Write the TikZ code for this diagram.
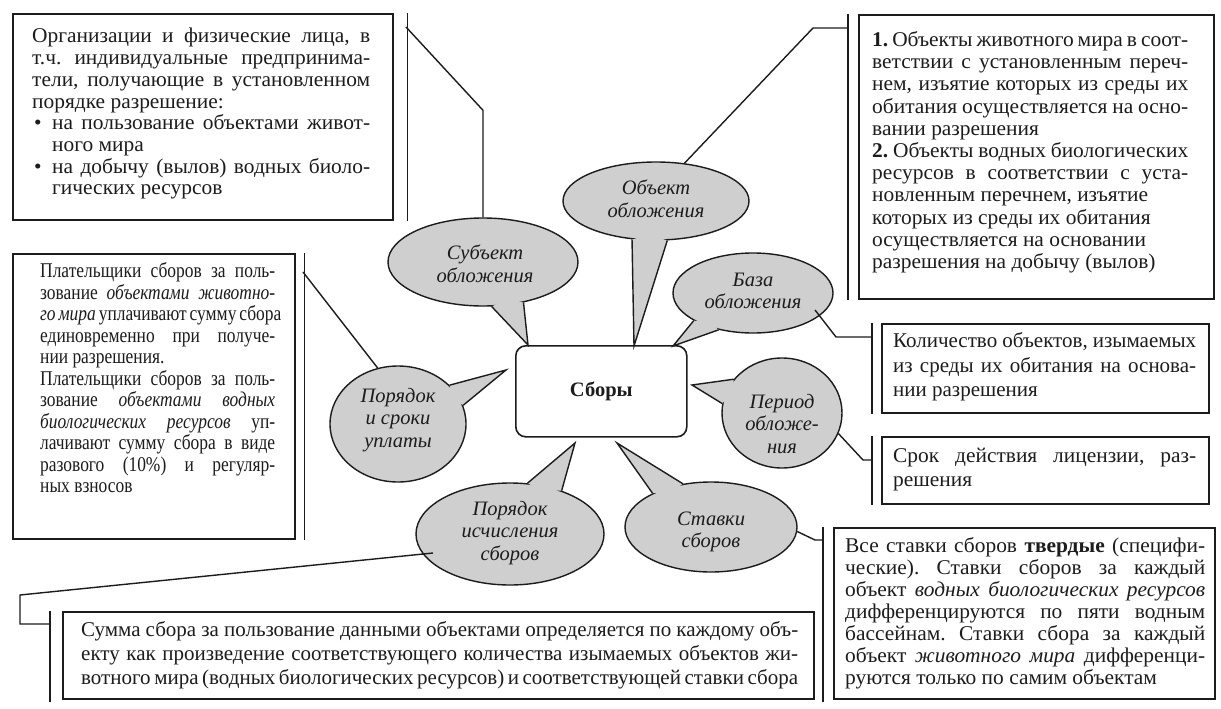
\documentclass[tikz,border=0pt]{standalone}
\usepackage{fontspec}
\setmainfont{Liberation Serif}
\newfontfamily\bodyf{Liberation Serif}[FakeStretch=1.02]
\newfontfamily\condf{Liberation Serif}[FakeStretch=0.83]
\usetikzlibrary{calc,shapes.geometric}
\frenchspacing
\newdimen\lw
\newcommand\jl[1]{\hbox to\lw{#1}}
\newcommand\lastl[1]{\hbox to\lw{#1\hfil}}
\definecolor{bub}{HTML}{CFCFCF}
\definecolor{ink}{HTML}{1C1C1C}
\newcommand\tail[4]{%
  \coordinate (m#1) at ($(#1.#2)!0.5!(#1.#3)$);
  \fill[bub] (#1.#2) -- (#4) -- (#1.#3) -- ($(m#1)!5pt!(#1.center)$) -- cycle;
  \draw[ink, line width=1.4pt, line join=miter] (#1.#2) -- (#4) -- (#1.#3);}
\begin{document}
\begin{tikzpicture}[x=1pt,y=-1pt,
  box/.style={draw=ink, line width=1.6pt, inner sep=0pt, anchor=north west},
  bar/.style={draw=ink, line width=1.6pt},
  conn/.style={draw=ink, line width=1.4pt},
  bubble/.style={ellipse, draw=ink, fill=bub, line width=1.4pt, inner sep=0pt},
  btxt/.style={inner sep=0pt, align=center, text=ink, font=\fontsize{20.5}{22.5}\selectfont\itshape},
  txt/.style={inner sep=0pt, anchor=base west, text=ink},
]
\useasboundingbox[fill=white] (0,0) rectangle (1221,709);

% ---------- boxes ----------
\node[box, minimum width=380pt, minimum height=206pt] (A) at (12,13) {};
\node[box, minimum width=355pt, minimum height=284pt] (B) at (858,14) {};
\node[box, minimum width=282pt, minimum height=285pt] (C) at (12,253) {};
\node[box, minimum width=327pt, minimum height=89pt] (D) at (881,323) {};
\node[box, minimum width=327pt, minimum height=67pt] (E) at (881,436) {};
\node[box, minimum width=381pt, minimum height=171pt] (F) at (833,527) {};
\node[box, minimum width=751pt, minimum height=87pt] (G) at (62,611) {};

% ---------- bars ----------
\draw[bar] ($(A.north east)+(14,0)$) -- ($(A.south east)+(14,0)$);
\draw[bar] ($(B.north west)+(-10,0)$) -- ($(B.south west)+(-10,0)$);
\draw[bar] ($(C.north east)+(9,0)$) -- ($(C.south east)+(9,0)$);
\draw[bar] ($(D.north west)+(-9,0)$) -- ($(D.south west)+(-9,0)$);
\draw[bar] ($(E.north west)+(-9,0)$) -- ($(E.south west)+(-9,0)$);
\draw[bar] ($(F.north west)+(-10,0)$) -- ($(F.south west)+(-10,2)$);
\draw[bar] ($(G.north west)+(-12,0)$) -- ($(G.south west)+(-12,2)$);

% ---------- box texts ----------
\node[txt, font=\bodyf\fontsize{21}{21.7}\selectfont] (At) at (32,43) {\vtop{\lw=338pt
\jl{Организации и физические лица, в}
\jl{т.ч. индивидуальные предпринима-}
\jl{тели, получающие в установленном}
\lastl{порядке разрешение:}
\jl{\hbox to 20pt{\hspace{2pt}\textbullet\hfil}на пользование объектами живот-}
\lastl{\hspace*{20pt}ного мира}
\jl{\hbox to 20pt{\hspace{2pt}\textbullet\hfil}на добычу (вылов) водных биоло-}
\lastl{\hspace*{20pt}гических ресурсов}}};

\node[txt, font=\bodyf\fontsize{21}{22.2}\selectfont] (Bt) at (872,46.5) {\vtop{\lw=316pt
\jl{\textbf{1.} Объекты животного мира в соот-}
\jl{ветствии с установленным переч-}
\jl{нем, изъятие которых из среды их}
\jl{обитания осуществляется на осно-}
\lastl{вании разрешения}
\jl{\textbf{2.} Объекты водных биологических}
\jl{ресурсов в соответствии с уста-}
\lastl{новленным перечнем, изъятие}
\lastl{которых из среды их обитания}
\lastl{осуществляется на основании}
\lastl{разрешения на добычу (вылов)}}};

\node[txt, font=\condf\fontsize{21}{21.5}\selectfont] (Ct) at (40,277.5) {\vtop{\lw=235pt
\jl{Плательщики сборов за поль-}
\jl{зование \textit{объектами животно-}}
\jl{\textit{го мира} уплачивают сумму сбора}
\jl{единовременно при получе-}
\lastl{нии разрешения.}
\jl{Плательщики сборов за поль-}
\jl{зование \textit{объектами водных}}
\jl{\textit{биологических ресурсов} уп-}
\jl{лачивают сумму сбора в виде}
\jl{разового (10\%) и регуляр-}
\lastl{ных взносов}}};

\node[txt, font=\fontsize{21}{24.5}\selectfont] (Dt) at (893,347.5) {\vtop{\lw=303pt
\jl{Количество объектов, изымаемых}
\jl{из среды их обитания на основа-}
\lastl{нии разрешения}}};

\node[txt, font=\bodyf\fontsize{21}{24}\selectfont] (Et) at (893,462) {\vtop{\lw=303pt
\jl{Срок действия лицензии, раз-}
\lastl{решения}}};

\node[txt, font=\bodyf\fontsize{21}{22}\selectfont] (Ft) at (845,552.5) {\vtop{\lw=360pt
\jl{Все ставки сборов \textbf{твердые} (специфи-}
\jl{ческие). Ставки сборов за каждый}
\jl{объект \textit{водных биологических ресурсов}}
\jl{дифференцируются по пяти водным}
\jl{бассейнам. Ставки сбора за каждый}
\jl{объект \textit{животного мира} дифференци-}
\lastl{руются только по самим объектам}}};

\node[txt, font=\fontsize{21}{24}\selectfont] (Gt) at (81,636.5) {\vtop{\lw=717pt
\jl{Сумма сбора за пользование данными объектами определяется по каждому объ-}
\jl{екту как произведение соответствующего количества изымаемых объектов жи-}
\jl{вотного мира (водных биологических ресурсов) и соответствующей ставки сбора}}};

% ---------- bubbles ----------
\node[bubble, minimum width=190pt, minimum height=88pt] (sub) at (483,262) {};
\node[bubble, minimum width=186pt, minimum height=78pt] (obj) at (656,201) {};
\node[bubble, minimum width=160pt, minimum height=80pt] (bas) at (753,293) {};
\node[bubble, minimum width=120pt, minimum height=110pt] (per) at (782,413) {};
\node[bubble, minimum width=172pt, minimum height=90pt] (stv) at (711,527) {};
\node[bubble, minimum width=188pt, minimum height=102pt] (isc) at (510,534) {};
\node[bubble, minimum width=136pt, minimum height=116pt] (srk) at (398,424) {};

\coordinate (tSub) at (528,345);
\coordinate (tObj) at (634,346);
\coordinate (tBas) at (673,346);
\coordinate (tPer) at (692,385);
\coordinate (tStv) at (617,443);
\coordinate (tIsc) at (575,443);
\coordinate (tSrk) at (506,370);

\tail{sub}{281}{315}{tSub}
\tail{obj}{238}{286}{tObj}
\tail{bas}{205}{227}{tBas}
\tail{per}{145}{171}{tPer}
\tail{stv}{150}{123}{tStv}
\tail{isc}{71}{40}{tIsc}
\tail{srk}{37}{16}{tSrk}

\node[btxt] (subT) at (485,264) {Субъект\\обложения};
\node[btxt] (objT) at (656,199) {Объект\\обложения};
\node[btxt] (basT) at (753,291) {База\\обложения};
\node[btxt] (perT) at (782,424) {Период\\обложе-\\ния};
\node[btxt] (stvT) at (711,532) {Ставки\\сборов};
\node[btxt] (iscT) at (510,533) {Порядок\\исчисления\\сборов};
\node[btxt] (srkT) at (398,420) {Порядок\\и сроки\\уплаты};

% ---------- centre ----------
\node[draw=ink, line width=1.6pt, rounded corners=10pt, minimum width=171pt, minimum height=91pt, anchor=north west, inner sep=0pt, font=\fontsize{20.5}{22}\selectfont\bfseries, text=ink] (sb) at (515,345) {Сборы};

% ---------- connectors ----------
\coordinate (cA) at (406,27);
\coordinate (cB) at (848,28);
\coordinate (cC) at (303,272);
\coordinate (cD) at (872,337);
\coordinate (cE) at (872,460);
\coordinate (cF) at (823,540);
\coordinate (cG) at (50,624);
\draw[conn] (sub.north) -- ++(0,-107) -- (cA);
\draw[conn] (obj.53) -- (813,28) -- (cB);
\draw[conn] ($(bas.center)+(62,17)$) -- (836,337) -- (cD);
\draw[conn] (per.340) -- (863,460) -- (cE);
\draw[conn] (stv.357) -- (815,540) -- (cF);
\draw[conn] ($(isc.center)+(-77,19)$) -- (20,595) -- (20,624) -- (cG);
\draw[conn] (srk.110) -- (cC);
\end{tikzpicture}
\end{document}
